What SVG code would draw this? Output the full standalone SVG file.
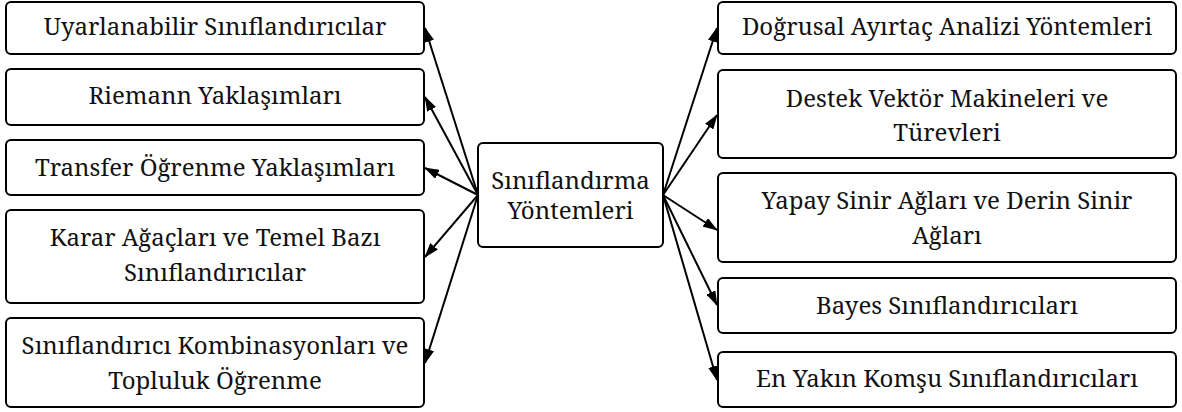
<svg xmlns="http://www.w3.org/2000/svg" width="1182" height="412" viewBox="0 0 1182 412">
<style>
.box{fill:#fff;stroke:#000;stroke-width:2}
.t{font-family:"Noto Serif","DejaVu Serif",serif;font-size:24px;fill:#111;text-anchor:middle}
.c{stroke:#000;stroke-width:2;fill:none;marker-end:url(#ah)}
</style>
<defs>
<marker id="ah" viewBox="0 0 15 10" refX="14" refY="5" markerWidth="15" markerHeight="10" markerUnits="userSpaceOnUse" orient="auto">
<path d="M0,0 L15,5 L0,10 z" fill="#000"/>
</marker>
</defs>
<rect width="1182" height="412" fill="#fff"/>
<g id="connectors">
<line class="c" x1="478" y1="195" x2="425" y2="28"/>
<line class="c" x1="478" y1="195" x2="425" y2="97"/>
<line class="c" x1="478" y1="195" x2="425" y2="168"/>
<line class="c" x1="478" y1="195" x2="425" y2="257"/>
<line class="c" x1="478" y1="195" x2="425" y2="363"/>
<line class="c" x1="663" y1="195" x2="717" y2="28"/>
<line class="c" x1="663" y1="195" x2="717" y2="115"/>
<line class="c" x1="663" y1="195" x2="717" y2="230"/>
<line class="c" x1="663" y1="195" x2="717" y2="305"/>
<line class="c" x1="663" y1="195" x2="717" y2="380"/>
</g>
<g id="center">
<rect class="box" x="478" y="143" width="185" height="104" rx="5"/>
<text class="t" x="570.5" y="189">Sınıflandırma</text>
<text class="t" x="570.5" y="219">Yöntemleri</text>
</g>
<g id="l1">
<rect class="box" x="6" y="2" width="418" height="52" rx="5"/>
<text class="t" x="215" y="35">Uyarlanabilir Sınıflandırıcılar</text>
</g>
<g id="l2">
<rect class="box" x="6" y="69" width="418" height="56" rx="5"/>
<text class="t" x="215" y="104">Riemann Yaklaşımları</text>
</g>
<g id="l3">
<rect class="box" x="6" y="140" width="418" height="55" rx="5"/>
<text class="t" x="215" y="176">Transfer Öğrenme Yaklaşımları</text>
</g>
<g id="l4">
<rect class="box" x="6" y="210" width="418" height="93" rx="5"/>
<text class="t" x="215" y="246">Karar Ağaçları ve Temel Bazı</text>
<text class="t" x="215" y="281">Sınıflandırıcılar</text>
</g>
<g id="l5">
<rect class="box" x="6" y="318" width="418" height="89" rx="5"/>
<text class="t" x="215" y="354">Sınıflandırıcı Kombinasyonları ve</text>
<text class="t" x="215" y="389">Topluluk Öğrenme</text>
</g>
<g id="r1">
<rect class="box" x="718" y="2" width="458" height="52" rx="5"/>
<text class="t" x="947" y="35">Doğrusal Ayırtaç Analizi Yöntemleri</text>
</g>
<g id="r2">
<rect class="box" x="718" y="70" width="458" height="88" rx="5"/>
<text class="t" x="947" y="107">Destek Vektör Makineleri ve</text>
<text class="t" x="947" y="141">Türevleri</text>
</g>
<g id="r3">
<rect class="box" x="718" y="173" width="458" height="89" rx="5"/>
<text class="t" x="947" y="209">Yapay Sinir Ağları ve Derin Sinir</text>
<text class="t" x="947" y="244">Ağları</text>
</g>
<g id="r4">
<rect class="box" x="718" y="278" width="458" height="55" rx="5"/>
<text class="t" x="947" y="314">Bayes Sınıflandırıcıları</text>
</g>
<g id="r5">
<rect class="box" x="718" y="352" width="458" height="55" rx="5"/>
<text class="t" x="947" y="387">En Yakın Komşu Sınıflandırıcıları</text>
</g>
</svg>
